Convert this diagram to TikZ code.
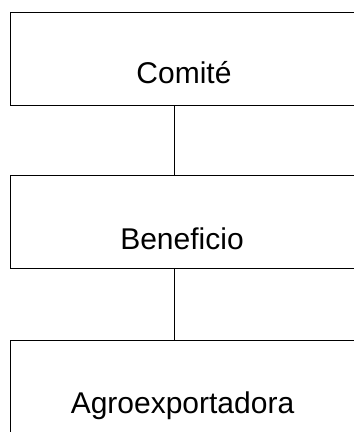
\documentclass[tikz,border=0pt]{standalone}
\usepackage{fontspec}
\setmainfont{Liberation Sans}
\usetikzlibrary{positioning}

\tikzset{
  caja/.style={draw, line width=1.5pt, minimum width=345.5pt, minimum height=93pt, inner sep=0pt},
  rotulo/.style={anchor=base, inner sep=0pt, font=\fontsize{30}{32}\selectfont},
  enlace/.style={line width=1.5pt}
}

\begin{document}
\begin{tikzpicture}[x=1pt, y=-1pt]
  \useasboundingbox (0,0) rectangle (354,432);
  \node[caja] (comite) at (183.25,58.75) {};
  \node[caja] (benef) at (183.25,222) {};
  \node[caja] (agro) at (183.25,387) {};
  \node[rotulo] (comiteTxt) at (184,83) {Comité};
  \node[rotulo] (benefTxt) at (182,249) {Beneficio};
  \node[rotulo] (agroTxt) at (182.5,413) {Agroexportadora};
  \draw[enlace] ([xshift=-9pt]comite.south) -- ([xshift=-9pt]benef.north);
  \draw[enlace] ([xshift=-9pt]benef.south) -- ([xshift=-9pt]agro.north);
\end{tikzpicture}
\end{document}
